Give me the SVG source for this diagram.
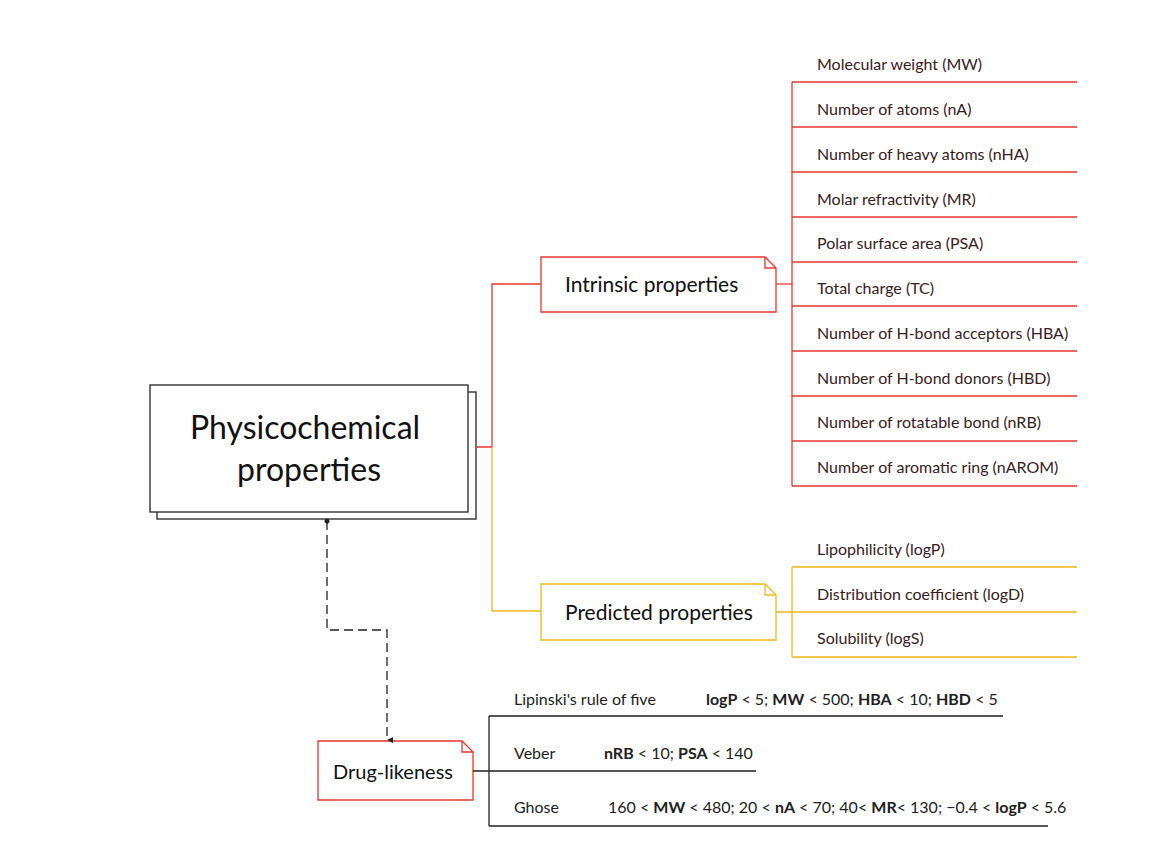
<svg xmlns="http://www.w3.org/2000/svg" width="1171" height="858" viewBox="0 0 1171 858">
<style>
text{font-family:Lato,"Noto Sans",sans-serif;fill:#111}
.it{font-size:16px;fill:#3a2020}
.dl{font-size:16px;fill:#222}
.red{stroke:#e8372c;fill:none;stroke-width:1.3}
.yel{stroke:#f0b81c;fill:none;stroke-width:1.3}
.blk{stroke:#222;fill:none;stroke-width:1.3}
</style>
<defs><marker id="ar" markerWidth="8" markerHeight="8" refX="4" refY="7" orient="auto" markerUnits="userSpaceOnUse"><path d="M1,1 L4,7 L7,1Z" fill="#222"/></marker></defs>
<g id="main">
<rect x="157" y="392" width="319" height="127" fill="#fff" stroke="#222" stroke-width="1.3"/>
<rect x="150" y="385" width="318" height="127" fill="#fff" stroke="#222" stroke-width="1.3"/>
<text x="305" y="439" text-anchor="middle" font-size="32">Physicochemical</text>
<text x="309" y="481" text-anchor="middle" font-size="32">properties</text>
</g>
<g id="intrinsic">
<path class="red" d="M541,257 H765 L776,268 V312 H541Z M765,257 V268 H776" fill="#fff"/>
<text x="565" y="292" font-size="21">Intrinsic properties</text>
</g>
<g id="predicted">
<path class="yel" d="M541,584 H765 L776,595 V640 H541Z M765,584 V595 H776" fill="#fff"/>
<text x="565" y="620" font-size="21">Predicted properties</text>
</g>
<g id="druglikeness">
<path class="red" d="M318,741 H462 L473,752 V800 H318Z M462,741 V752 H473" fill="#fff"/>
<text x="333" y="779" font-size="20">Drug-likeness</text>
</g>
<g id="connectors">
<path class="red" d="M476,447 H492 V284 H541"/>
<path class="yel" d="M492,447 V611 H541"/>
<path class="red" d="M776,284 H792" stroke-width="3"/>
<path class="red" d="M792,82 V486 M792,82 H1077 M792,127 H1077 M792,172 H1077 M792,217 H1077 M792,262 H1077 M792,306 H1077 M792,351 H1077 M792,396 H1077 M792,441 H1077 M792,486 H1077"/>
<path class="yel" d="M776,612 H792 M792,567 V657 M792,567 H1077 M792,612 H1077 M792,657 H1077"/>
<circle cx="327" cy="521" r="2.5" fill="#222"/>
<path d="M327,521 V630 H387 V740" stroke="#222" fill="none" stroke-width="1.3" stroke-dasharray="9,5" marker-end="url(#ar)"/>
<path class="blk" d="M473,771 H489 M489,716 V826 M489,716 H1003 M489,771 H756 M489,826 H1048"/>
</g>
<g id="labels">
<text class="it" x="817" y="70">Molecular weight (MW)</text>
<text class="it" x="817" y="115">Number of atoms (nA)</text>
<text class="it" x="817" y="160">Number of heavy atoms (nHA)</text>
<text class="it" x="817" y="205">Molar refractivity (MR)</text>
<text class="it" x="817" y="249">Polar surface area (PSA)</text>
<text class="it" x="817" y="294">Total charge (TC)</text>
<text class="it" x="817" y="339">Number of H-bond acceptors (HBA)</text>
<text class="it" x="817" y="384">Number of H-bond donors (HBD)</text>
<text class="it" x="817" y="428">Number of rotatable bond (nRB)</text>
<text class="it" x="817" y="473">Number of aromatic ring (nAROM)</text>
<text class="it" x="817" y="555">Lipophilicity (logP)</text>
<text class="it" x="817" y="600">Distribution coefficient (logD)</text>
<text class="it" x="817" y="644">Solubility (logS)</text>
<text class="dl" x="514" y="705">Lipinski's rule of five</text>
<text class="dl" x="706" y="705"><tspan font-weight="bold">logP</tspan> &lt; 5; <tspan font-weight="bold">MW</tspan> &lt; 500; <tspan font-weight="bold">HBA</tspan> &lt; 10; <tspan font-weight="bold">HBD</tspan> &lt; 5</text>
<text class="dl" x="514" y="759">Veber</text>
<text class="dl" x="604" y="759"><tspan font-weight="bold">nRB</tspan> &lt; 10; <tspan font-weight="bold">PSA</tspan> &lt; 140</text>
<text class="dl" x="514" y="813">Ghose</text>
<text class="dl" x="608" y="813">160 &lt; <tspan font-weight="bold">MW</tspan> &lt; 480; 20 &lt; <tspan font-weight="bold">nA</tspan> &lt; 70; 40&lt; <tspan font-weight="bold">MR</tspan>&lt; 130; −0.4 &lt; <tspan font-weight="bold">logP</tspan> &lt; 5.6</text>
</g>
</svg>
